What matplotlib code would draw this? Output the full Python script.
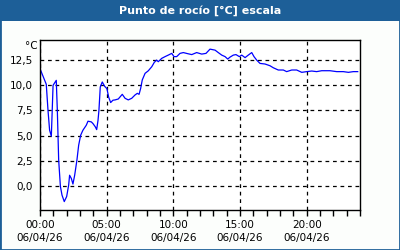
import matplotlib
matplotlib.use("Agg")
import matplotlib.pyplot as plt
from matplotlib.patches import Rectangle
from matplotlib.ticker import MultipleLocator, FixedLocator

title = "Punto de rocío [°C] escala"
unit = "°C"
date_label = "06/04/26"
hour_ticks = [0, 5, 10, 15, 20]
y_ticks = [0.0, 2.5, 5.0, 7.5, 10.0, 12.5]

hours = [0.05, 0.47, 0.6, 0.72, 0.85, 0.98, 1.22, 1.3, 1.4, 1.53, 1.65, 1.82, 2.0,
         2.15, 2.22, 2.35, 2.47, 2.6, 2.77, 2.9, 3.05, 3.22, 3.47, 3.6, 3.85, 3.97,
         4.15, 4.25, 4.35, 4.42, 4.52, 4.67, 4.85, 5.02, 5.15, 5.3, 5.47, 5.63, 5.87,
         6.17, 6.38, 6.62, 6.88, 7.13, 7.3, 7.43, 7.55, 7.67, 7.88, 8.12, 8.38, 8.57,
         8.75, 8.87, 9.13, 9.38, 9.62, 9.88, 10.05, 10.25, 10.5, 10.75, 11.05, 11.38,
         11.75, 12.13, 12.45, 12.75, 13.13, 13.37, 13.63, 13.88, 14.08, 14.25, 14.5,
         14.7, 14.95, 15.13, 15.38, 15.62, 15.88, 16.05, 16.25, 16.5, 16.88, 17.25,
         17.5, 17.87, 18.25, 18.5, 18.88, 19.25, 19.63, 20.0, 20.38, 20.75, 21.13,
         21.75, 22.25, 22.75, 23.13, 23.5, 23.83]
dew = [11.45, 10.07, 7.5, 5.54, 4.95, 9.97, 10.46, 7.5, 2.6, 0.0, -0.86, -1.5, -1.0,
       0.13, 1.1, 0.78, 0.23, 1.1, 2.6, 4.06, 5.05, 5.54, 6.03, 6.43, 6.36, 6.2,
       5.87, 5.6, 6.5, 7.5, 9.8, 10.3, 9.87, 9.64, 8.8, 8.27, 8.5, 8.53, 8.62,
       9.08, 8.69, 8.53, 8.69, 9.02, 9.18, 9.08, 9.67, 10.5, 11.15, 11.4, 11.8, 12.23,
       12.46, 12.3, 12.63, 12.8, 12.95, 13.12, 12.8, 12.8, 13.12, 13.2, 13.1, 13.0,
       13.2, 13.05, 13.12, 13.54, 13.44, 13.2, 12.95, 12.8, 12.56, 12.75, 12.95,
       13.0, 12.8, 12.95, 12.7, 12.95, 13.2, 12.8, 12.46, 12.13, 12.07, 11.9,
       11.7, 11.48, 11.48, 11.32, 11.48, 11.48, 11.25, 11.32, 11.38, 11.32, 11.41,
       11.41, 11.32, 11.32, 11.25, 11.32, 11.32]

W, H = 400, 250
blue = "#1d5f98"
fig = plt.figure(figsize=(W / 100, H / 100), dpi=100)
fig.patch.set_facecolor("#fcfefc")

# border and title bar
fig.add_artist(Rectangle((0, 0), 1, 1, transform=fig.transFigure, fill=False,
                         edgecolor=blue, linewidth=2.0))
fig.add_artist(Rectangle((0, 1 - 21 / H), 1, 21 / H, transform=fig.transFigure,
                         facecolor=blue, edgecolor="none"))
fig.text(0.5, 1 - 10.5 / H, title, color="white", fontsize=8, fontweight="bold",
         ha="center", va="center", family="DejaVu Sans")

left, right, top, bottom = 40, 360, 40, 210
ax = fig.add_axes([left / W, 1 - bottom / H, (right - left) / W, (bottom - top) / H])
ax.set_facecolor("white")
ax.plot(hours, dew, color="#0000ff", linewidth=0.9)

ax.set_xlim(0, 24)
ax.set_ylim(-2.33, 14.44)
ax.xaxis.set_major_locator(FixedLocator(hour_ticks))
ax.xaxis.set_minor_locator(MultipleLocator(1))
ax.set_xticklabels([f"{h:02d}:00\n{date_label}" for h in hour_ticks])
ax.set_yticks(y_ticks)
ax.set_yticklabels([f"{v:.1f}".replace(".", ",") for v in y_ticks])

ax.tick_params(axis="x", which="both", direction="out", length=4, width=1,
               labelsize=7.5, pad=3, color="black")
ax.tick_params(axis="y", which="both", length=0, labelsize=7.5, pad=5)
for lbl in ax.get_xticklabels():
    lbl.set_linespacing(1.45)

ax.grid(True, which="major", color="black", linestyle=(0, (3, 3)), linewidth=0.9)
for s in ax.spines.values():
    s.set_color("black")
    s.set_linewidth(1.0)

fig.text(38 / W, 1 - 46 / H, unit, fontsize=7.5, ha="right", va="center")

fig.savefig("out.png", dpi=100, facecolor=fig.get_facecolor())
